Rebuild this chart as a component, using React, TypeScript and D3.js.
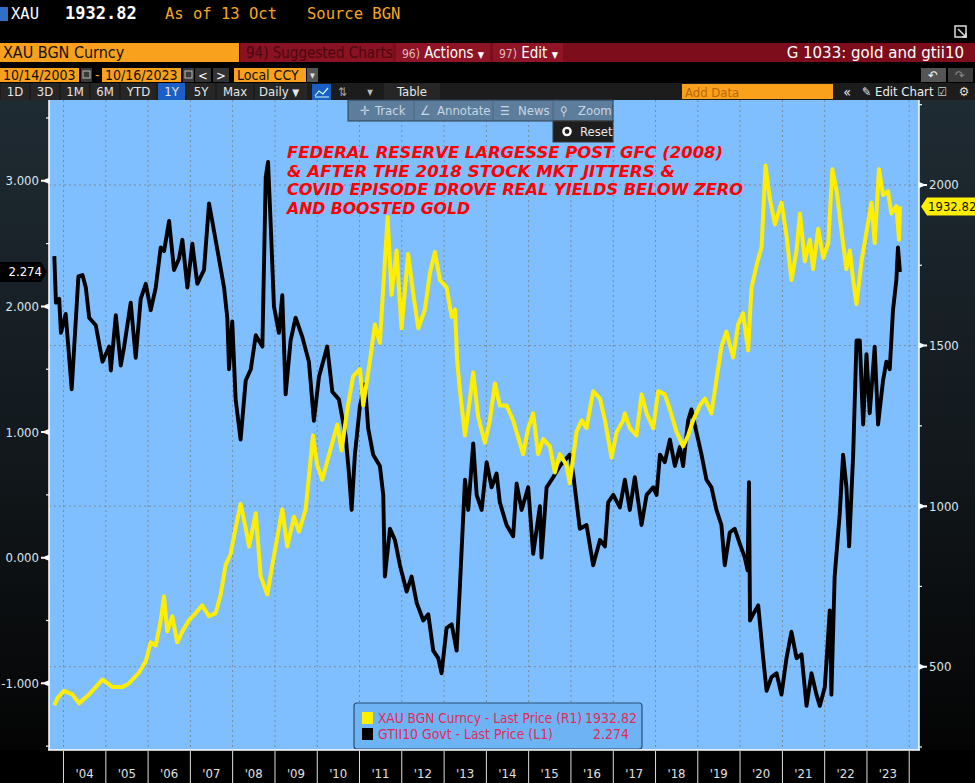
import { useMemo } from "react";
import * as d3 from "d3";

// XAU BGN Curncy (right axis)
const goldSeries: [string, number][] = [
  ["2003-10-14", 380], ["2003-11-10", 402], ["2004-01-06", 425], ["2004-03-17", 414],
  ["2004-05-15", 386], ["2004-08-10", 414], ["2004-12-02", 460], ["2005-02-27", 437],
  ["2005-05-23", 437], ["2005-07-20", 448], ["2005-10-15", 482], ["2005-12-12", 517],
  ["2006-01-24", 576], ["2006-03-08", 566], ["2006-04-20", 644], ["2006-05-18", 719],
  ["2006-06-16", 610], ["2006-07-29", 657], ["2006-09-10", 576], ["2006-10-24", 610],
  ["2006-12-19", 644], ["2007-02-16", 667], ["2007-04-13", 691], ["2007-06-11", 657],
  ["2007-08-08", 667], ["2007-09-20", 725], ["2007-11-02", 817], ["2007-12-15", 851],
  ["2008-01-27", 932], ["2008-03-10", 1007], ["2008-04-23", 932], ["2008-05-22", 874],
  ["2008-07-19", 978], ["2008-08-30", 782], ["2008-10-27", 725], ["2008-12-09", 817],
  ["2009-02-04", 932], ["2009-03-05", 990], ["2009-04-17", 874], ["2009-06-14", 967],
  ["2009-07-27", 921], ["2009-09-23", 990], ["2009-11-25", 1220], ["2010-01-01", 1128],
  ["2010-02-13", 1082], ["2010-03-28", 1139], ["2010-05-11", 1197], ["2010-06-23", 1254],
  ["2010-07-30", 1173], ["2010-09-17", 1300], ["2010-11-07", 1404], ["2011-01-05", 1427],
  ["2011-02-02", 1313], ["2011-03-31", 1450], ["2011-05-14", 1566], ["2011-06-26", 1508],
  ["2011-07-25", 1681], ["2011-09-01", 1900], ["2011-10-05", 1658], ["2011-11-17", 1796],
  ["2011-12-30", 1554], ["2012-02-25", 1785], ["2012-04-10", 1658], ["2012-05-23", 1554],
  ["2012-07-19", 1612], ["2012-09-01", 1727], ["2012-10-13", 1791], ["2012-11-26", 1704],
  ["2013-01-22", 1681], ["2013-03-07", 1589], ["2013-04-05", 1612], ["2013-04-24", 1450],
  ["2013-05-18", 1358], ["2013-06-30", 1220], ["2013-08-12", 1335], ["2013-09-09", 1416],
  ["2013-10-22", 1278], ["2013-12-19", 1197], ["2014-01-31", 1267], ["2014-03-15", 1382],
  ["2014-04-27", 1313], ["2014-06-24", 1313], ["2014-08-20", 1267], ["2014-10-17", 1197],
  ["2014-11-14", 1162], ["2014-12-28", 1243], ["2015-02-09", 1289], ["2015-03-24", 1162],
  ["2015-05-06", 1209], ["2015-07-03", 1186], ["2015-08-15", 1105], ["2015-09-27", 1162],
  ["2015-11-23", 1128], ["2015-12-22", 1071], ["2016-02-19", 1232], ["2016-04-03", 1267],
  ["2016-05-15", 1243], ["2016-07-11", 1358], ["2016-09-08", 1335], ["2016-10-21", 1267],
  ["2016-12-17", 1151], ["2017-01-30", 1230], ["2017-03-27", 1267], ["2017-04-11", 1289],
  ["2017-05-24", 1243], ["2017-07-20", 1220], ["2017-09-02", 1348], ["2017-10-16", 1289],
  ["2017-12-12", 1243], ["2018-01-24", 1358], ["2018-03-22", 1348], ["2018-05-05", 1301],
  ["2018-07-01", 1232], ["2018-08-27", 1186], ["2018-10-09", 1220], ["2018-11-22", 1267],
  ["2019-01-18", 1313], ["2019-03-03", 1335], ["2019-04-29", 1289], ["2019-06-11", 1393],
  ["2019-07-24", 1497], ["2019-09-05", 1543], ["2019-11-02", 1463], ["2019-12-15", 1566],
  ["2020-01-27", 1600], ["2020-03-11", 1485], ["2020-04-09", 1681], ["2020-05-23", 1750],
  ["2020-07-05", 1808], ["2020-08-08", 2061], ["2020-09-14", 1958], ["2020-10-28", 1877],
  ["2020-12-24", 1945], ["2021-02-05", 1843], ["2021-03-20", 1704], ["2021-05-03", 1796],
  ["2021-06-01", 1911], ["2021-07-14", 1762], ["2021-08-26", 1830], ["2021-09-23", 1738],
  ["2021-11-06", 1864], ["2021-12-19", 1773], ["2022-02-01", 1819], ["2022-03-08", 2049],
  ["2022-04-15", 1980], ["2022-05-27", 1854], ["2022-07-08", 1738], ["2022-08-06", 1796],
  ["2022-09-04", 1704], ["2022-10-03", 1629], ["2022-11-15", 1762], ["2022-12-28", 1854],
  ["2023-02-09", 1945], ["2023-03-09", 1819], ["2023-04-15", 2049], ["2023-05-20", 1969],
  ["2023-07-02", 1980], ["2023-07-31", 1911], ["2023-09-12", 1934], ["2023-10-05", 1830],
  ["2023-10-13", 1932.82],
];

// GTII10 Govt (left axis)
const tipsSeries: [string, number][] = [
  ["2003-10-14", 2.4], ["2003-10-28", 2.03], ["2003-11-25", 2.06], ["2003-12-10", 1.79],
  ["2004-01-20", 1.94], ["2004-03-12", 1.34], ["2004-05-09", 2.24], ["2004-06-13", 2.25],
  ["2004-07-12", 2.15], ["2004-08-10", 1.91], ["2004-10-06", 1.85], ["2004-12-03", 1.56],
  ["2005-01-30", 1.68], ["2005-02-13", 1.49], ["2005-03-28", 1.93], ["2005-05-10", 1.53],
  ["2005-06-08", 1.68], ["2005-08-04", 2.03], ["2005-09-16", 1.59], ["2005-10-29", 2.06],
  ["2005-12-12", 2.18], ["2006-01-24", 1.97], ["2006-03-08", 2.15], ["2006-04-20", 2.47],
  ["2006-05-19", 2.44], ["2006-07-01", 2.68], ["2006-08-13", 2.29], ["2006-09-25", 2.38],
  ["2006-10-24", 2.53], ["2006-12-06", 2.15], ["2007-01-18", 2.5], ["2007-03-02", 2.18],
  ["2007-04-29", 2.29], ["2007-06-11", 2.82], ["2007-07-09", 2.68], ["2007-09-05", 2.38],
  ["2007-10-19", 2.15], ["2007-11-16", 1.91], ["2007-12-01", 1.5], ["2007-12-29", 1.88],
  ["2008-01-27", 1.26], ["2008-03-10", 0.94], ["2008-04-23", 1.41], ["2008-06-06", 1.5],
  ["2008-07-19", 1.77], ["2008-09-14", 1.68], ["2008-10-13", 3.03], ["2008-11-02", 3.15],
  ["2008-11-25", 2.65], ["2008-12-23", 2.0], ["2009-02-04", 1.79], ["2009-03-05", 2.09],
  ["2009-04-03", 1.3], ["2009-05-16", 1.73], ["2009-06-28", 1.91], ["2009-08-24", 1.76],
  ["2009-10-21", 1.56], ["2009-12-03", 1.09], ["2010-01-16", 1.44], ["2010-03-28", 1.68],
  ["2010-05-11", 1.32], ["2010-07-07", 1.26], ["2010-09-03", 0.97], ["2010-10-02", 0.67],
  ["2010-10-25", 0.38], ["2010-11-22", 0.82], ["2011-01-05", 1.21], ["2011-02-17", 1.38],
  ["2011-03-17", 1.03], ["2011-04-29", 0.82], ["2011-06-26", 0.73], ["2011-07-25", 0.5],
  ["2011-08-08", -0.15], ["2011-09-21", 0.23], ["2011-11-03", 0.14], ["2011-12-16", -0.06],
  ["2012-02-12", -0.27], ["2012-03-26", -0.15], ["2012-05-09", -0.36], ["2012-07-05", -0.5],
  ["2012-08-17", -0.45], ["2012-09-29", -0.74], ["2012-11-11", -0.8], ["2012-12-10", -0.92],
  ["2013-01-22", -0.56], ["2013-03-07", -0.53], ["2013-04-19", -0.74], ["2013-05-18", -0.21],
  ["2013-06-30", 0.62], ["2013-07-28", 0.38], ["2013-09-09", 0.91], ["2013-10-09", 0.5],
  ["2013-11-21", 0.38], ["2014-01-03", 0.76], ["2014-02-15", 0.56], ["2014-03-30", 0.67],
  ["2014-04-27", 0.44], ["2014-06-24", 0.26], ["2014-08-20", 0.17], ["2014-09-19", 0.59],
  ["2014-11-01", 0.38], ["2014-12-28", 0.56], ["2015-02-09", 0.03], ["2015-04-08", 0.41],
  ["2015-04-22", 0.0], ["2015-06-05", 0.56], ["2015-08-01", 0.64], ["2015-09-27", 0.73],
  ["2015-11-23", 0.79], ["2015-12-22", 0.82], ["2016-01-20", 0.67], ["2016-03-18", 0.23],
  ["2016-05-15", 0.26], ["2016-07-11", -0.06], ["2016-09-08", 0.14], ["2016-10-21", 0.09],
  ["2016-11-18", 0.44], ["2017-01-01", 0.5], ["2017-02-27", 0.4], ["2017-04-11", 0.62],
  ["2017-05-24", 0.38], ["2017-07-06", 0.64], ["2017-09-02", 0.26], ["2017-10-16", 0.5],
  ["2017-12-12", 0.56], ["2018-01-10", 0.5], ["2018-02-08", 0.82], ["2018-03-22", 0.76],
  ["2018-05-05", 0.94], ["2018-06-17", 0.73], ["2018-07-30", 0.88], ["2018-08-27", 0.73],
  ["2018-10-09", 1.09], ["2018-11-07", 1.18], ["2018-12-20", 1.0], ["2019-02-02", 0.82],
  ["2019-03-17", 0.62], ["2019-04-29", 0.56], ["2019-06-11", 0.38], ["2019-07-24", 0.26],
  ["2019-08-22", -0.06], ["2019-10-04", 0.2], ["2019-11-16", 0.23], ["2019-12-30", 0.11],
  ["2020-02-11", 0.0], ["2020-03-06", -0.1], ["2020-03-18", 0.6], ["2020-03-27", -0.5],
  ["2020-04-23", -0.45], ["2020-06-06", -0.38], ["2020-07-19", -0.8], ["2020-08-17", -1.06],
  ["2020-09-29", -0.95], ["2020-11-11", -0.92], ["2020-12-24", -1.09], ["2021-02-05", -0.8],
  ["2021-03-20", -0.59], ["2021-05-03", -0.8], ["2021-06-15", -0.77], ["2021-07-28", -1.18],
  ["2021-09-09", -0.92], ["2021-10-22", -1.09], ["2021-11-20", -1.18], ["2022-01-02", -1.03],
  ["2022-02-14", -0.42], ["2022-02-28", -1.09], ["2022-03-28", -0.15], ["2022-05-11", 0.35],
  ["2022-06-09", 0.82], ["2022-07-08", 0.56], ["2022-07-31", 0.09], ["2022-09-04", 0.82],
  ["2022-10-03", 1.73], ["2022-10-31", 1.73], ["2022-11-29", 1.06], ["2022-12-28", 1.62],
  ["2023-01-25", 1.15], ["2023-03-09", 1.68], ["2023-04-07", 1.06], ["2023-05-20", 1.41],
  ["2023-06-18", 1.56], ["2023-07-17", 1.5], ["2023-08-14", 1.97], ["2023-09-12", 2.21],
  ["2023-09-26", 2.47], ["2023-10-13", 2.274],
];

const leftTicks = [3, 2, 1, 0, -1];
const leftMinor = [3.5, 2.5, 1.5, 0.5, -0.5, -1.5];
const rightTicks = [2000, 1500, 1000, 500];
const rightMinor = [2250, 1750, 1250, 750, 250];
const years = d3.range(2004, 2024);

const noteLines = [
  "FEDERAL RESERVE LARGESSE POST GFC (2008)",
  "& AFTER THE 2018 STOCK MKT JITTERS &",
  "COVID EPISODE DROVE REAL YIELDS BELOW ZERO",
  "AND BOOSTED GOLD",
];
const noteWidths = [436, 388, 456, 183];

const legendRows = [
  { label: "XAU BGN Curncy - Last Price (R1)", value: "1932.82", color: "#ffee00", width: 204 },
  { label: "GTII10 Govt - Last Price (L1)", value: "2.274", color: "#000", width: 175 },
];

const periodButtons = ["1D", "3D", "1M", "6M", "YTD", "1Y", "5Y", "Max"];

const UI = "'Liberation Sans Narrow','DejaVu Sans Condensed','Liberation Sans',Arial,sans-serif";
const MONO = "'DejaVu Sans Mono','Liberation Mono',monospace";

const parse = d3.utcParse("%Y-%m-%d");

export default function App() {
  const plot = { l: 49, r: 919, t: 100, b: 750 };

  const x = d3
    .scaleUtc()
    .domain([parse("2003-08-29")!, parse("2024-03-17")!])
    .range([plot.l, plot.r - 1]);
  const yL = d3.scaleLinear().domain([-1.523, 3.643]).range([749, plot.t]);
  const yR = d3.scaleLinear().domain([243.8, 2264.6]).range([749, plot.t]);

  const goldPath = useMemo(
    () =>
      d3
        .line<[string, number]>()
        .x((d) => x(parse(d[0])!))
        .y((d) => yR(d[1]))(goldSeries),
    []
  );
  const tipsPath = useMemo(
    () =>
      d3
        .line<[string, number]>()
        .x((d) => x(parse(d[0])!))
        .y((d) => yL(d[1]))(tipsSeries),
    []
  );

  const yearX = (y: number) => x(new Date(Date.UTC(y, 0, 1)));
  const midX = (y: number) => x(new Date(Date.UTC(y, 6, 1)));

  // period button boxes along the toolbar row
  const btnEdges = [0, 30, 60, 90, 120, 157, 186, 216, 254];

  return (
    <svg
      width={975}
      height={783}
      style={{ position: "absolute", left: 0, top: 0, display: "block" }}
      fontFamily={UI}
    >
      <defs>
        <linearGradient id="side" x1="0" y1="0" x2="0" y2="1">
          <stop offset="0" stopColor="#1f2b33" />
          <stop offset="0.55" stopColor="#12181c" />
          <stop offset="1" stopColor="#040404" />
        </linearGradient>
      </defs>
      <rect width={975} height={783} fill="#000" />

      {/* header line */}
      <rect x={0} y={7} width={8} height={14} fill="#2f6fc6" />
      <text x={11} y={19} fill="#fff" fontFamily={MONO} fontSize={15.5}>XAU</text>
      <text x={65} y={19} fill="#fff" fontFamily={MONO} fontSize={17} fontWeight="bold">1932.82</text>
      <text x={165} y={19} fill="#f5a623" fontFamily={MONO} fontSize={15.5}>As of 13 Oct</text>
      <text x={307} y={19} fill="#f5a623" fontFamily={MONO} fontSize={15.5}>Source BGN</text>
      <rect x={955} y={26} width={11} height={11} fill="none" stroke="#ddd" strokeWidth={1.5} />
      <path d="M958,29 L966,37 M962,37 H966 V33" stroke="#ddd" strokeWidth={1.5} fill="none" />

      {/* red command bar */}
      <rect x={0} y={43} width={239} height={19} fill="#f9a11d" />
      <text x={3} y={58} fontSize={16} fill="#111">XAU BGN Curncy</text>
      <rect x={240} y={43} width={735} height={19} fill="#7e0d1b" />
      <rect x={241} y={43} width={152} height={19} fill="#8a1222" />
      <text x={246} y={58} fontSize={15} fill="#4c0811">94) Suggested Charts</text>
      <rect x={396} y={43} width={94} height={19} fill="#8e1426" />
      <text x={402} y={58} fontSize={15} fill="#fff">
        <tspan fill="#e3b7bd" fontSize={12}>96)</tspan> Actions <tspan fontSize={9}>▼</tspan>
      </text>
      <rect x={493} y={43} width={70} height={19} fill="#8e1426" />
      <text x={499} y={58} fontSize={15} fill="#fff">
        <tspan fill="#e3b7bd" fontSize={12}>97)</tspan> Edit <tspan fontSize={9}>▼</tspan>
      </text>
      <text x={964} y={58} fontSize={15} fill="#fff" textAnchor="end" fontFamily="'DejaVu Sans',sans-serif">
        G 1033: gold and gtii10
      </text>

      {/* date row */}
      <rect x={0} y={68} width={79} height={14} fill="#f9a11d" />
      <text x={3} y={80} fontSize={14} fill="#111">10/14/2003</text>
      <rect x={81} y={68} width={11} height={14} fill="#3a3a3a" />
      <rect x={83} y={71} width={7} height={7} fill="none" stroke="#bbb" />
      <text x={95} y={80} fontSize={14} fill="#f9a11d">-</text>
      <rect x={102} y={68} width={79} height={14} fill="#f9a11d" />
      <text x={105} y={80} fontSize={14} fill="#111">10/16/2023</text>
      <rect x={183} y={68} width={11} height={14} fill="#3a3a3a" />
      <rect x={185} y={71} width={7} height={7} fill="none" stroke="#bbb" />
      <rect x={195} y={68} width={16} height={14} fill="#333" />
      <text x={203} y={80} fontSize={13} fill="#fff" textAnchor="middle">&lt;</text>
      <rect x={213} y={68} width={16} height={14} fill="#333" />
      <text x={221} y={80} fontSize={13} fill="#fff" textAnchor="middle">&gt;</text>
      <rect x={234} y={68} width={72} height={14} fill="#f9a11d" />
      <text x={237} y={80} fontSize={14} fill="#111">Local CCY</text>
      <rect x={307} y={68} width={11} height={14} fill="#555" />
      <text x={312.5} y={78} fontSize={7} fill="#ddd" textAnchor="middle">▼</text>
      <rect x={921} y={68} width={25} height={14} fill="#555" />
      <text x={933} y={80} fontSize={13} fill="#eee" textAnchor="middle">↶</text>
      <rect x={948} y={68} width={25} height={14} fill="#3c3c3c" />
      <text x={960} y={80} fontSize={13} fill="#888" textAnchor="middle">↷</text>

      {/* period toolbar */}
      <rect x={0} y={83} width={975} height={17} fill="#1c1c1c" />
      {periodButtons.map((b, i) => (
        <g key={b}>
          <rect
            x={btnEdges[i] + 1}
            y={83}
            width={btnEdges[i + 1] - btnEdges[i] - 2}
            height={17}
            fill={b === "1Y" ? "#1b5fc4" : "#262626"}
          />
          <text
            x={(btnEdges[i] + btnEdges[i + 1]) / 2}
            y={96}
            fontSize={13}
            fill="#e6e6e6"
            textAnchor="middle"
          >
            {b}
          </text>
        </g>
      ))}
      <rect x={255} y={83} width={52} height={17} fill="#262626" />
      <text x={259} y={96} fontSize={13} fill="#e6e6e6">Daily <tspan fontSize={10}>▼</tspan></text>
      <rect x={312} y={84} width={19} height={16} fill="#1b5fc4" />
      <path d="M315,96 L319,91 L323,94 L328,88 M315,97 H329" stroke="#cfe" strokeWidth={1.2} fill="none" />
      <text x={343} y={96} fontSize={12} fill="#aaa" textAnchor="middle">⇅</text>
      <text x={370} y={95} fontSize={8} fill="#bbb" textAnchor="middle">▼</text>
      <rect x={384} y={83} width={56} height={17} fill="#262626" />
      <text x={412} y={96} fontSize={13} fill="#e6e6e6" textAnchor="middle">Table</text>
      <rect x={682} y={84} width={151} height={15} fill="#f9a11d" />
      <text x={685} y={97} fontSize={13} fill="#b8690a">Add Data</text>
      <text x={847} y={97} fontSize={14} fill="#eee" textAnchor="middle">«</text>
      <text x={862} y={96} fontSize={12} fill="#eee">✎</text>
      <text x={875} y={96} fontSize={13} fill="#eee">Edit Chart</text>
      <text x={942} y={96} fontSize={12} fill="#ccc" textAnchor="middle">☑</text>
      <text x={964} y={96} fontSize={13} fill="#ddd" textAnchor="middle">⚙</text>

      {/* axis side panels */}
      <rect x={0} y={100} width={plot.l} height={650} fill="url(#side)" />
      <rect x={plot.r} y={100} width={975 - plot.r} height={650} fill="url(#side)" />

      {/* plot area */}
      <rect x={plot.l} y={plot.t} width={plot.r - plot.l} height={plot.b - plot.t} fill="#80bfff" />
      {years.concat([2024]).map((yr) => (
        <line
          key={"vg" + yr}
          x1={yearX(yr)}
          x2={yearX(yr)}
          y1={plot.t}
          y2={plot.b}
          stroke="#7c8a96"
          strokeDasharray="2,3"
        />
      ))}
      {rightTicks.map((t) => (
        <line
          key={"hg" + t}
          x1={plot.l}
          x2={plot.r}
          y1={yR(t)}
          y2={yR(t)}
          stroke="#7c8a96"
          strokeDasharray="2,3"
        />
      ))}

      {/* annotation */}
      {noteLines.map((s, i) => (
        <text
          key={s}
          x={287}
          y={158 + i * 18.5}
          fill="#ff0000"
          fontFamily="'DejaVu Sans',Verdana,sans-serif"
          fontWeight="bold"
          fontStyle="italic"
          fontSize={15}
          textLength={noteWidths[i]}
          lengthAdjust="spacingAndGlyphs"
        >
          {s}
        </text>
      ))}

      {/* series */}
      <path d={tipsPath!} fill="none" stroke="#000" strokeWidth={3.9} strokeLinejoin="round" />
      <path d={goldPath!} fill="none" stroke="#ffee00" strokeWidth={4} strokeLinejoin="round" />

      {/* track toolbar */}
      <rect x={348} y={100} width={265} height={21} fill="#5d7d9c" stroke="#2f3f50" />
      {[414, 493, 553].map((sx) => (
        <line key={sx} x1={sx} x2={sx} y1={101} y2={120} stroke="#4b6884" />
      ))}
      <text x={360} y={115} fontSize={13} fill="#c9d6e3">✛</text>
      <text x={375} y={115} fontSize={13} fill="#c9d6e3">Track</text>
      <text x={420} y={115} fontSize={13} fill="#c9d6e3">∠</text>
      <text x={437} y={115} fontSize={13} fill="#c9d6e3">Annotate</text>
      <text x={500} y={115} fontSize={12} fill="#c9d6e3">☰</text>
      <text x={518} y={115} fontSize={13} fill="#c9d6e3">News</text>
      <text x={560} y={115} fontSize={12} fill="#c9d6e3">⚲</text>
      <text x={578} y={115} fontSize={13} fill="#c9d6e3">Zoom</text>
      <rect x={553} y={121} width={60} height={21} fill="#1e1e1e" stroke="#3a3a3a" />
      <circle cx={567} cy={131.5} r={3.6} fill="none" stroke="#fff" strokeWidth={2.4} />
      <text x={580} y={136} fontSize={13} fill="#e8e8e8">Reset</text>

      {/* legend */}
      <rect x={354} y={703} width={288} height={46} rx={3} fill="#6eb3f4" stroke="#2d4d70" strokeWidth={1.2} />
      {legendRows.map((r, i) => (
        <g key={r.label}>
          <rect x={362} y={712 + i * 16} width={11} height={12} fill={r.color} />
          <text
            x={378}
            y={723 + i * 16}
            fontSize={14}
            fill="#e22a5a"
            textLength={r.width}
            lengthAdjust="spacingAndGlyphs"
          >
            {r.label}
          </text>
          <text x={611} y={723 + i * 16} fontSize={14} fill="#e22a5a" textAnchor="middle">
            {r.value}
          </text>
        </g>
      ))}

      {/* frame lines */}
      <line x1={plot.l} x2={plot.l} y1={plot.t} y2={plot.b} stroke="#fff" strokeWidth={1.5} />
      <line x1={plot.r} x2={plot.r} y1={plot.t} y2={plot.b} stroke="#fff" strokeWidth={1.5} />
      <rect x={0} y={751} width={975} height={32} fill="#000" />
      <line x1={plot.l - 1} x2={plot.r + 1} y1={plot.b} y2={plot.b} stroke="#fff" strokeWidth={1.5} />

      {/* left axis */}
      {leftTicks.map((t) => (
        <g key={"lt" + t} transform={`translate(0,${yL(t)})`}>
          <path d={`M${plot.l},-3 L${plot.l},3 L${plot.l - 5},1 L${plot.l - 8},1 L${plot.l - 8},-1 L${plot.l - 5},-1 Z`} fill="#fff" />
          <text x={39} y={4.5} fontSize={13} fill="#dde6ee" textAnchor="end">
            {d3.format(".3f")(t).replace("−", "-")}
          </text>
        </g>
      ))}
      {leftMinor.map((t) => (
        <line key={"lm" + t} x1={plot.l - 3} x2={plot.l} y1={yL(t)} y2={yL(t)} stroke="#fff" strokeWidth={1.2} />
      ))}
      <path d={`M0,${yL(2.274) - 10} H41 L47,${yL(2.274)} L41,${yL(2.274) + 10} H0 Z`} fill="#000" />
      <text x={42} y={yL(2.274) + 4.5} fontSize={13} fill="#fff" textAnchor="end">2.274</text>

      {/* right axis */}
      {rightTicks.map((t) => (
        <g key={"rt" + t} transform={`translate(0,${yR(t)})`}>
          <path d={`M${plot.r},-3 L${plot.r},3 L${plot.r + 5},1 L${plot.r + 8},1 L${plot.r + 8},-1 L${plot.r + 5},-1 Z`} fill="#fff" />
          <text x={929} y={4.5} fontSize={13} fill="#dde6ee">
            {t}
          </text>
        </g>
      ))}
      {rightMinor.map((t) => (
        <line key={"rm" + t} x1={plot.r} x2={plot.r + 3} y1={yR(t)} y2={yR(t)} stroke="#fff" strokeWidth={1.2} />
      ))}
      <path
        d={`M921,${yR(1932.82)} L927,${yR(1932.82) - 9} H975 V${yR(1932.82) + 9} H927 Z`}
        fill="#ffee00"
      />
      <text x={928} y={yR(1932.82) + 4.5} fontSize={13} fill="#111">1932.82</text>

      {/* bottom axis */}
      {years.concat([2024]).map((yr) => (
        <line key={"bt" + yr} x1={yearX(yr)} x2={yearX(yr)} y1={751} y2={783} stroke="#ddd" strokeWidth={1} />
      ))}
      {years.map((yr) => (
        <text key={"yl" + yr} x={midX(yr)} y={778} fontSize={13} fill="#e0e0e0" textAnchor="middle">
          {"'" + String(yr).slice(2)}
        </text>
      ))}
    </svg>
  );
}
